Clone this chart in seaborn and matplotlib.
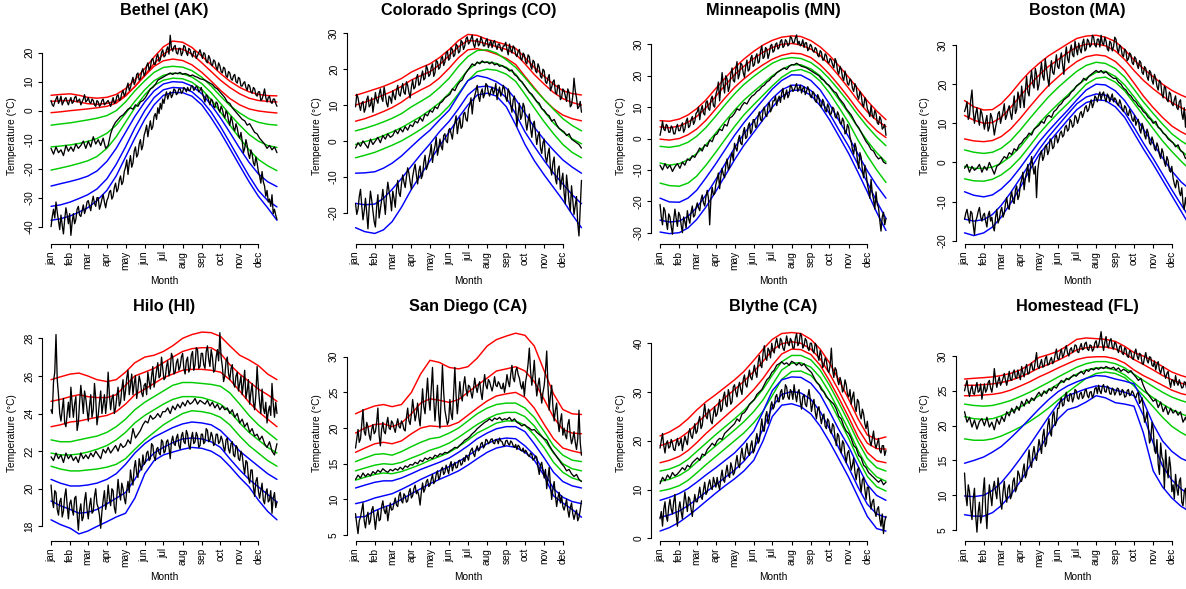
import matplotlib

matplotlib.use("Agg")
import matplotlib.pyplot as plt
import seaborn as sns

MONTHS = ["jan", "feb", "mar", "apr", "may", "jun", "jul", "aug", "sep", "oct", "nov", "dec"]
MONTH_DAYS = [1, 32, 60, 91, 121, 152, 182, 213, 244, 274, 305, 335]
# smooth curves read at the 1st and mid of every month
SMOOTH_DAYS = [1, 16, 32, 46, 60, 75, 91, 106, 121, 136, 152, 167, 182, 197, 213, 228,
               244, 259, 274, 289, 305, 320, 335, 350, 365]
# max / min series read every 2nd day, mean series every 4th day
DAYS_2 = list(range(1, 366, 2))
DAYS_4 = list(range(1, 366, 4))

# ---------------- Bethel (AK)
bethel_tmax = [3.5, 2.0, 1.5, 3.0, 4.0, 5.0, 2.5, 3.5, 5.0, 2.0, 3.0, 4.0, 4.5, 3.0, 2.0, 3.5,
               4.5, 2.5, 3.0, 4.5, 5.0, 3.0, 3.5, 4.0, 2.0, 3.0, 4.0, 5.5, 3.0, 3.5,
               4.5, 3.0, 2.5, 4.0, 3.5, 2.0, 1.5, 3.5, 3.0, 1.5, 2.0, 3.5, 4.0, 2.0, 2.5, 3.0,
               3.5, 2.5, 1.5, 3.0, 4.5, 2.5, 3.0, 5.0, 5.5, 3.5, 4.0, 6.0, 7.0, 5.0,
               6.0, 8.0, 9.5, 7.0, 8.0, 10.0, 11.5, 9.0, 10.0, 12.5, 13.0, 10.5, 11.0, 13.5, 14.5, 12.0,
               13.0, 15.5, 16.5, 14.0, 15.0, 17.5, 18.0, 16.0, 16.0, 18.5, 19.5, 17.0, 17.5, 20.0, 21.0, 18.5,
               19.0, 21.0, 22.0, 19.5, 26.0, 21.5, 20.5, 22.0, 22.5, 20.0, 19.5, 21.5, 21.5, 19.0, 20.0, 22.5,
               22.0, 20.0, 19.0, 21.5, 21.0, 19.5, 18.5, 20.5, 20.5, 18.0, 19.0, 20.0, 21.0, 19.5,
               18.0, 20.0, 19.5, 17.0, 16.5, 19.0, 18.0, 16.0, 15.5, 17.5, 17.0, 15.0, 14.0, 16.5, 15.5, 13.5,
               13.0, 15.0, 14.5, 12.0, 11.5, 13.5, 13.0, 11.0, 10.5, 12.0, 12.5, 10.0, 9.5, 11.5, 11.0, 8.5,
               8.5, 9.5, 10.0, 8.0, 7.0, 9.0, 8.5, 6.5, 6.0, 8.0, 7.5, 5.5, 5.0, 6.5,
               6.5, 3.5, 4.0, 5.5, 7.5, 4.5, 3.0, 4.5, 5.0, 3.0, 2.5, 4.0, 4.0, 2.5, 1.5]
bethel_tmean = [-13.0, -15.0, -12.5, -14.5, -13.5, -15.5, -12.0, -14.0, -12.5, -14.0, -11.5, -13.0, -12.0, -10.5, -13.0,
                -10.5, -12.5, -9.0, -11.5, -10.0, -12.0, -9.5, -13.0, -12.0, -8.0, -5.5, -4.0, -3.0, -2.0, -1.5,
                -0.5, 0.5, 1.0, 0.5, 2.0, 1.5, 3.0, 3.5, 4.5, 6.0, 7.5, 8.0, 9.0, 10.5, 11.0, 11.5,
                12.0, 12.5, 13.0, 12.5, 13.0, 12.8, 13.2, 12.5, 12.8, 12.5, 12.0, 12.3, 11.8, 11.5, 11.0,
                10.8, 10.5, 10.0, 9.5, 9.0, 8.0, 7.5, 6.5, 5.5, 4.5, 3.0, 2.5, 1.0, 0.0, -1.0, -2.0,
                -3.0, -3.5, -5.0, -4.5, -6.0, -7.5, -8.0, -9.5, -10.5, -11.5, -13.0, -12.0, -13.5, -12.5, -14.5]
bethel_tmin = [-40.0, -36.5, -34.0, -37.0, -31.5, -35.0, -38.0, -41.0, -36.0, -39.5, -42.5, -37.5, -33.5, -36.0, -39.0, -35.5,
               -43.0, -38.5, -35.5, -39.0, -37.5, -34.0, -33.0, -36.0, -36.5, -34.5, -32.5, -35.5, -34.0, -31.5,
               -31.0, -33.0, -34.5, -31.5, -29.5, -32.0, -33.0, -30.0, -30.0, -34.0, -32.5, -30.5, -29.0, -31.5, -33.5, -31.0,
               -30.0, -28.0, -27.5, -30.5, -29.5, -26.5, -25.0, -28.0, -27.0, -24.0, -22.5, -25.5, -24.5, -21.0,
               -19.5, -17.0, -22.0, -18.0, -15.5, -19.5, -18.0, -14.0, -12.5, -16.0, -15.0, -11.5, -10.0, -13.5, -12.0, -8.5,
               -7.0, -5.0, -9.0, -6.0, -3.5, -6.5, -5.5, -2.0, -1.0, -3.0, 1.0, -1.0, 2.5, 0.5, 4.0, 2.5,
               5.0, 6.5, 4.0, 5.5, 6.5, 4.5, 5.5, 7.5, 7.0, 5.5, 6.0, 7.5, 7.5, 6.0, 6.5, 8.0,
               7.5, 6.5, 8.0, 7.0, 7.0, 8.5, 8.5, 7.0, 7.5, 8.5, 8.0, 6.5, 7.0, 8.0,
               6.0, 4.5, 3.0, 5.5, 5.0, 3.5, 2.0, 4.0, 3.5, 1.5, 1.0, 3.0, 2.5, 0.5, -0.5, 1.5,
               0.5, -1.5, -2.5, 0.0, -1.0, -3.5, -5.0, -2.0, -3.5, -6.0, -7.0, -4.5, -6.0, -8.5, -9.5, -7.5,
               -10.5, -14.5, -13.0, -10.0, -12.0, -15.0, -16.5, -13.5, -15.0, -18.0, -19.0, -16.0, -18.0, -21.0,
               -22.5, -25.0, -21.0, -24.5, -26.0, -29.5, -27.5, -31.5, -30.5, -33.0, -29.0, -35.5, -34.0, -36.0, -37.5]
bethel_red = [
    [5.3, 5.6, 5.8, 5.3, 4.6, 4.3, 4.6, 5.6, 7.6, 10.6, 14.5, 18.5, 22.0, 24.0, 23.6, 21.8, 18.8, 15.8, 12.8, 10.2, 8.0, 6.5, 5.6, 5.2, 5.1],
    [3.2, 3.4, 3.5, 3.0, 2.4, 2.2, 2.5, 3.3, 5.3, 8.3, 12.3, 16.2, 19.5, 21.4, 21.2, 19.5, 16.5, 13.5, 10.5, 8.0, 5.8, 4.3, 3.5, 3.2, 3.0],
    [-0.7, -0.4, 0.0, 0.3, 0.6, 1.0, 1.5, 2.6, 5.0, 8.3, 12.0, 15.3, 17.2, 17.8, 17.3, 15.8, 13.2, 10.2, 7.0, 4.2, 2.0, 0.6, -0.1, -0.5, -0.8],
]
bethel_green = [
    [-5.0, -4.6, -4.2, -3.7, -3.2, -2.6, -1.7, 0.0, 3.0, 6.8, 10.3, 13.2, 14.9, 15.3, 15.0, 13.8, 11.5, 8.5, 5.0, 1.8, -0.8, -2.8, -4.0, -4.7, -5.0],
    [-12.5, -12.2, -11.8, -11.3, -10.6, -9.6, -7.8, -5.0, -1.0, 3.2, 7.2, 10.3, 12.2, 12.9, 12.7, 11.6, 9.3, 6.2, 2.5, -1.3, -5.0, -8.2, -10.5, -12.0, -12.7],
    [-20.5, -19.8, -19.0, -18.2, -17.3, -15.8, -13.0, -9.0, -4.0, 1.0, 5.5, 8.7, 10.5, 11.2, 11.0, 9.8, 7.3, 3.8, -0.5, -5.0, -9.5, -13.5, -16.8, -19.0, -20.7],
]
bethel_blue = [
    [-26.0, -25.2, -24.4, -23.6, -22.6, -20.8, -17.5, -13.0, -7.5, -2.0, 3.0, 6.8, 9.2, 10.0, 9.8, 8.5, 5.8, 2.0, -2.5, -7.5, -13.0, -17.8, -21.8, -24.5, -26.2],
    [-33.0, -32.5, -31.5, -30.3, -29.0, -27.0, -23.5, -18.5, -12.5, -6.0, 0.0, 4.5, 7.2, 8.0, 7.8, 6.5, 3.5, -0.5, -5.5, -11.0, -17.0, -22.5, -27.5, -31.0, -33.2],
    [-37.8, -37.3, -36.3, -35.0, -33.5, -31.0, -27.5, -22.5, -16.0, -9.5, -3.0, 2.0, 5.3, 6.3, 6.2, 5.0, 2.0, -2.5, -7.5, -13.0, -19.0, -24.5, -29.5, -33.5, -37.8],
]

# ---------------- Colorado Springs (CO)
colorado_tmax = [9.5, 13.0, 12.0, 10.0, 8.5, 10.5, 11.0, 8.0, 9.0, 11.5, 12.5, 9.5, 10.0, 12.0, 8.0, 10.5,
                 13.5, 11.5, 10.5, 13.0, 14.5, 12.0, 11.0, 15.0, 13.0, 10.5, 9.5, 12.5, 12.0, 10.5,
                 14.0, 12.5, 11.5, 14.0, 15.5, 13.0, 12.5, 14.5, 16.0, 13.5, 13.0, 16.5, 15.5, 13.5, 12.0, 15.0,
                 17.0, 14.5, 15.0, 17.5, 18.5, 15.5, 16.0, 18.0, 19.5, 17.0, 17.5, 21.0, 20.0, 18.0,
                 18.5, 20.5, 21.5, 18.0, 19.0, 22.5, 22.0, 20.0, 20.5, 23.0, 23.5, 21.0, 22.0, 24.5, 25.0, 22.5,
                 23.0, 26.0, 25.5, 23.5, 24.0, 27.0, 26.5, 24.5, 25.0, 28.0, 27.5, 25.5, 26.5, 28.5, 29.0, 27.0,
                 27.5, 28.5, 29.5, 27.0, 26.0, 28.0, 28.5, 26.5, 27.0, 29.0, 28.0, 26.5, 26.5, 28.0, 28.5, 26.0,
                 27.0, 28.0, 26.0, 27.5, 28.0, 26.5, 25.5, 27.0, 27.0, 25.5, 25.0, 26.5, 26.5, 27.5,
                 25.5, 24.0, 27.0, 25.5, 24.5, 26.5, 26.0, 24.0, 23.5, 25.0, 25.5, 23.0, 22.5, 24.5, 24.0, 22.0,
                 21.5, 24.0, 23.5, 21.0, 20.0, 22.5, 22.0, 19.5, 19.0, 21.5, 20.5, 18.0, 17.5, 20.0, 19.5, 16.5,
                 16.0, 17.5, 18.5, 14.0, 15.0, 16.5, 17.0, 13.5, 13.0, 15.5, 15.5, 11.5, 12.0, 14.5,
                 14.0, 12.5, 11.0, 14.5, 13.5, 9.5, 10.0, 12.5, 17.5, 14.0, 12.0, 9.0, 9.5, 11.0, 8.0]
colorado_tmean = [-2.0, -0.5, -1.5, 0.0, -1.0, -2.0, 0.5, -1.0, 0.0, 1.0, -0.5, 1.5, 0.5, 2.0, 1.0,
                  1.5, 3.0, 2.0, 3.5, 2.5, 4.0, 3.0, 4.5, 4.0, 5.5, 5.0, 6.5, 5.5, 7.5, 7.0,
                  8.5, 8.0, 9.5, 9.0, 10.5, 11.0, 12.0, 12.5, 13.0, 14.5, 14.0, 15.5, 16.5, 17.0, 18.5, 19.5,
                  20.5, 21.5, 21.0, 22.0, 21.5, 22.3, 21.8, 22.0, 21.5, 22.0, 21.2, 21.5, 20.8, 21.0, 20.5,
                  20.2, 19.5, 19.8, 18.5, 18.0, 17.0, 16.5, 15.5, 14.5, 13.5, 13.0, 12.0, 11.0, 10.5, 9.0, 8.5,
                  7.5, 7.0, 5.5, 6.0, 4.5, 3.5, 3.0, 2.5, 1.5, 2.0, 0.5, 0.0, -0.5, -1.0, -2.0]
colorado_tmin = [-17.5, -20.5, -19.0, -15.5, -13.5, -18.0, -22.0, -19.5, -16.0, -20.0, -24.5, -18.5, -14.0, -16.5, -19.5, -22.5,
                 -24.0, -18.5, -15.0, -21.5, -19.0, -16.5, -13.5, -17.0, -20.5, -15.0, -11.5, -14.0, -16.0, -19.5,
                 -14.0, -16.0, -18.5, -13.5, -11.0, -14.5, -15.5, -12.0, -9.5, -11.5, -13.0, -10.0, -7.5, -9.0, -11.5, -13.5,
                 -10.0, -8.0, -6.5, -9.5, -12.0, -8.5, -7.0, -10.5, -9.5, -6.0, -4.0, -8.0, -7.0, -5.0,
                 -3.5, -1.0, -6.0, -3.0, -1.5, 1.0, -4.0, -2.0, 0.5, -1.5, -2.5, 1.5, 2.0, 0.0, -0.5, 3.0,
                 3.5, 2.0, 0.5, 3.5, 5.0, 7.0, 2.0, 4.5, 6.5, 3.5, 4.0, 7.5, 8.0, 6.0, 5.5, 9.0,
                 10.0, 12.0, 7.5, 11.0, 12.5, 14.0, 15.5, 12.5, 11.0, 13.5, 14.5, 12.0, 13.0, 16.0, 15.5, 13.5,
                 12.5, 14.0, 15.0, 13.0, 14.0, 16.0, 11.5, 13.5, 15.0, 12.5, 13.5, 15.5, 14.5, 12.0,
                 11.0, 14.5, 13.5, 10.0, 8.0, 11.5, 12.5, 9.0, 4.0, 7.5, 10.5, 6.0, 7.0, 10.5, 9.5, 5.5,
                 3.0, 5.5, 7.5, 3.5, 1.0, 4.5, 5.5, 2.0, -1.0, 1.5, 2.5, -2.0, -3.5, -0.5, 0.5, -4.5,
                 -6.0, -3.5, -2.0, -7.5, -9.5, -6.0, -4.5, -10.5, -12.0, -8.0, -7.0, -13.5, -11.0, -9.0,
                 -14.5, -17.5, -9.5, -13.0, -17.0, -19.5, -12.5, -16.5, -20.5, -18.0, -15.5, -23.0, -26.5, -18.5, -11.0]
colorado_red = [
    [12.7, 13.5, 14.4, 15.2, 16.2, 17.4, 19.2, 20.4, 21.5, 23.2, 25.5, 28.0, 29.7, 29.4, 28.3, 27.6, 26.8, 25.8, 23.2, 20.5, 18.0, 15.8, 14.0, 13.2, 12.8],
    [10.0, 10.8, 11.8, 12.8, 13.8, 15.2, 17.0, 18.2, 19.3, 21.2, 23.8, 26.3, 28.0, 27.8, 27.0, 26.3, 25.5, 24.2, 21.5, 18.5, 15.8, 13.5, 11.8, 10.7, 10.0],
    [5.5, 6.2, 7.2, 8.2, 9.3, 10.8, 12.8, 14.2, 15.5, 17.5, 20.3, 23.2, 25.4, 25.7, 25.1, 24.2, 23.0, 21.3, 18.0, 14.8, 11.5, 9.0, 7.2, 6.2, 5.6],
]
colorado_green = [
    [2.8, 3.5, 4.4, 5.3, 6.3, 7.6, 9.5, 11.0, 12.6, 14.8, 17.5, 20.8, 23.5, 25.2, 25.4, 24.5, 22.6, 20.5, 17.6, 14.5, 11.5, 8.8, 6.2, 4.3, 2.8],
    [-1.0, -0.2, 0.5, 1.5, 2.5, 3.7, 5.3, 6.8, 8.6, 10.6, 13.3, 16.5, 19.8, 21.8, 22.0, 21.6, 20.5, 18.6, 15.2, 11.8, 8.2, 5.0, 2.5, 0.6, -0.8],
    [-4.7, -4.0, -3.2, -2.2, -1.2, 0.0, 1.6, 3.2, 5.0, 7.0, 9.8, 13.2, 16.8, 19.3, 20.0, 19.7, 18.6, 16.6, 13.0, 9.2, 5.3, 2.0, -1.0, -3.2, -4.7],
]
colorado_blue = [
    [-9.0, -8.9, -8.6, -7.6, -6.2, -4.2, -1.6, 0.8, 3.0, 5.8, 8.6, 12.8, 16.8, 18.2, 17.6, 16.5, 14.7, 11.6, 7.7, 3.8, 0.3, -2.6, -5.3, -7.3, -9.0],
    [-17.4, -17.8, -17.6, -16.0, -13.5, -10.5, -7.0, -3.8, -0.8, 2.5, 5.5, 9.0, 12.8, 15.0, 15.3, 14.5, 12.0, 7.5, 2.5, -1.5, -5.5, -9.0, -12.0, -15.0, -17.5],
    [-24.2, -25.3, -25.8, -24.8, -22.5, -18.5, -13.5, -9.5, -5.5, -1.5, 2.5, 6.5, 10.0, 12.8, 13.3, 12.5, 9.5, 4.5, -1.0, -5.5, -9.5, -13.0, -16.5, -20.5, -24.2],
]

# ---------------- Minneapolis (MN)
minneapolis_tmax = [1.0, 3.0, 5.5, 3.0, 2.5, 4.5, 4.0, 2.0, 2.0, 4.0, 3.5, 1.5, 1.5, 3.5, 4.5, 2.5,
                    2.5, 4.0, 5.0, 2.0, 3.0, 5.5, 6.5, 3.5, 4.0, 6.0, 7.0, 4.5, 5.5, 8.0,
                    8.5, 10.0, 6.0, 9.0, 10.5, 8.0, 7.5, 11.5, 12.0, 9.5, 9.0, 12.5, 13.5, 10.5, 10.0, 14.0,
                    15.5, 18.0, 12.0, 16.5, 21.0, 17.0, 14.5, 20.0, 19.0, 15.0, 16.5, 20.5, 22.5, 18.5,
                    18.0, 22.0, 24.5, 19.0, 20.5, 24.0, 23.5, 21.0, 19.5, 23.0, 25.0, 21.5, 22.0, 25.5, 26.5, 23.0,
                    23.5, 26.0, 27.0, 24.0, 24.5, 28.0, 29.5, 25.5, 26.0, 29.0, 28.5, 25.5, 27.0, 29.5, 30.0, 27.5,
                    28.0, 30.0, 30.5, 28.5, 29.0, 31.0, 31.5, 29.0, 29.5, 31.5, 31.0, 29.5, 30.0, 32.5, 32.0, 30.5,
                    30.5, 32.0, 33.0, 30.0, 31.0, 29.5, 30.0, 31.5, 29.0, 30.5, 30.5, 28.0, 28.5, 30.0,
                    29.5, 28.0, 27.5, 29.0, 28.5, 26.5, 26.0, 28.0, 27.5, 25.0, 25.0, 27.0, 26.5, 24.5, 24.0, 25.5,
                    25.0, 23.5, 22.5, 25.5, 24.5, 21.5, 20.5, 23.0, 22.0, 19.5, 18.5, 21.5, 20.0, 17.5, 17.0, 19.0,
                    18.5, 16.0, 15.0, 17.5, 16.5, 13.5, 12.5, 15.0, 14.0, 11.0, 10.0, 13.0, 12.0, 9.5,
                    8.5, 7.0, 10.5, 7.5, 6.5, 9.0, 8.0, 5.0, 4.5, 7.0, 6.0, 3.0, 3.5, 4.5, 1.0]
minneapolis_tmean = [-8.5, -10.0, -8.0, -9.5, -8.5, -10.5, -9.0, -8.0, -9.5, -7.5, -8.5, -6.5, -7.0, -5.5, -6.0,
                     -4.5, -3.0, -4.0, -2.0, -2.5, -0.5, -1.0, 1.0, 1.5, 3.0, 2.5, 4.5, 4.0, 6.5, 7.0,
                     8.0, 9.5, 9.0, 10.5, 11.5, 11.0, 12.5, 13.5, 14.0, 15.0, 15.5, 16.5, 17.0, 18.0, 18.5, 19.5,
                     20.0, 21.0, 21.5, 22.0, 22.5, 22.0, 23.0, 23.5, 23.5, 24.0, 23.5, 23.0, 22.8, 22.5, 22.0,
                     21.5, 21.0, 20.5, 20.0, 19.0, 18.5, 17.5, 17.0, 16.0, 15.0, 14.5, 13.0, 12.0, 11.0, 9.5, 8.5,
                     7.5, 6.0, 4.5, 3.5, 2.0, 0.5, -1.0, -2.0, -3.5, -4.0, -5.5, -6.5, -6.0, -7.5, -8.0]
minneapolis_tmin = [-21.0, -25.0, -27.5, -22.0, -23.0, -26.5, -29.0, -24.0, -25.0, -28.0, -30.5, -26.0, -22.5, -25.5, -28.0, -23.5,
                    -24.5, -27.5, -30.0, -25.0, -26.5, -28.5, -23.0, -25.5, -27.0, -23.5, -21.5, -25.0, -24.5, -22.0,
                    -20.5, -22.0, -23.0, -19.5, -18.0, -20.5, -21.5, -18.5, -16.5, -19.0, -27.5, -19.0, -15.5, -18.0, -17.5, -14.5,
                    -13.0, -11.0, -16.0, -12.0, -9.5, -11.5, -12.5, -8.5, -6.5, -10.0, -9.0, -6.0, -4.5, -7.0,
                    -1.5, -3.0, -4.0, -0.5, 1.0, -1.5, -2.0, 2.0, 3.5, 0.0, 0.5, 4.0, 5.0, 1.5, 2.5, 6.0,
                    6.0, 3.5, 4.0, 7.0, 8.5, 6.0, 5.5, 9.0, 10.0, 7.5, 7.0, 10.5, 11.5, 8.5, 9.5, 12.0,
                    12.0, 13.5, 10.5, 12.5, 13.5, 11.5, 14.5, 16.0, 12.5, 14.0, 15.5, 13.0, 14.0, 17.0, 16.5, 15.0,
                    15.5, 16.5, 17.5, 15.0, 16.0, 17.0, 14.5, 16.0, 16.5, 14.0, 15.0, 16.5, 15.5, 13.5,
                    13.0, 15.0, 14.5, 12.0, 11.5, 14.0, 13.0, 10.5, 10.0, 12.5, 11.5, 9.0, 8.5, 11.0, 10.0, 7.5,
                    8.0, 10.0, 9.5, 7.0, 6.5, 8.5, 7.5, 5.0, 4.5, 6.5, 5.5, 1.5, 2.0, 4.5, 3.5, 0.5,
                    -1.0, -3.5, -5.0, -1.5, -3.0, -7.0, -9.5, -4.5, -6.0, -10.0, -12.5, -8.5, -11.0, -14.5,
                    -16.5, -19.0, -13.0, -17.5, -19.5, -22.5, -17.0, -21.0, -22.0, -26.0, -29.5, -25.0, -23.5, -27.5, -25.5]
minneapolis_red = [
    [5.7, 5.5, 6.2, 7.5, 9.5, 12.3, 16.0, 19.3, 22.5, 25.3, 27.8, 29.8, 31.3, 32.3, 32.7, 32.5, 31.2, 29.2, 26.5, 23.2, 19.5, 15.8, 12.0, 8.8, 6.0],
    [3.7, 3.4, 4.0, 5.2, 7.0, 9.8, 13.5, 17.0, 20.3, 23.0, 25.5, 27.5, 29.0, 30.0, 30.3, 29.8, 28.5, 26.5, 23.5, 20.0, 16.0, 12.0, 8.5, 5.8, 3.8],
    [-0.2, -0.5, 0.0, 1.2, 3.0, 5.8, 9.5, 13.0, 16.3, 19.0, 21.5, 23.5, 25.3, 26.5, 27.2, 27.0, 25.8, 23.5, 20.5, 17.0, 13.0, 9.0, 5.5, 2.5, 0.3],
]
minneapolis_green = [
    [-2.5, -2.8, -2.3, -1.2, 0.7, 3.5, 7.2, 10.8, 14.2, 17.2, 19.8, 22.0, 24.0, 25.3, 25.8, 25.5, 24.2, 22.0, 19.0, 15.5, 11.5, 7.5, 3.8, 0.5, -2.3],
    [-7.8, -8.5, -8.0, -6.8, -4.8, -2.0, 1.8, 5.5, 9.0, 12.2, 15.0, 17.5, 20.0, 22.0, 23.5, 23.5, 22.2, 20.0, 16.5, 12.5, 8.0, 3.5, -0.8, -4.5, -7.5],
    [-14.2, -15.0, -15.2, -14.2, -12.0, -8.5, -4.3, -0.2, 3.8, 7.5, 10.8, 13.8, 16.8, 19.5, 21.5, 22.0, 20.8, 18.3, 14.5, 10.0, 5.0, -0.5, -5.5, -10.0, -14.0],
]
minneapolis_blue = [
    [-19.0, -20.2, -20.3, -19.0, -16.5, -12.5, -8.0, -3.5, 1.0, 5.0, 8.8, 12.3, 15.8, 18.5, 20.3, 20.2, 18.5, 15.5, 11.0, 5.8, 0.5, -5.0, -10.3, -15.0, -19.0],
    [-26.0, -26.6, -26.3, -24.8, -22.0, -18.0, -13.0, -8.0, -3.0, 1.5, 5.5, 9.3, 12.8, 15.5, 17.0, 17.0, 15.3, 12.3, 8.0, 2.8, -2.5, -8.3, -14.0, -20.0, -25.5],
    [-29.8, -30.3, -30.0, -28.5, -25.8, -21.8, -16.8, -11.8, -6.8, -2.2, 2.0, 6.0, 10.0, 13.3, 15.3, 15.5, 13.8, 10.5, 6.0, 0.8, -4.8, -10.8, -17.0, -23.5, -29.3],
]

# ---------------- Boston (MA)
boston_tmax = [13.0, 14.0, 15.5, 11.0, 12.0, 16.0, 18.5, 13.0, 10.0, 12.5, 14.0, 11.0, 9.5, 13.5, 12.5, 10.5,
               8.5, 10.5, 12.0, 8.0, 9.0, 12.5, 11.5, 9.5, 7.0, 9.0, 10.5, 12.5, 13.0, 10.0,
               11.5, 13.0, 15.0, 11.0, 12.0, 13.5, 14.5, 12.5, 11.0, 14.0, 17.0, 12.5, 13.5, 18.0, 16.5, 14.0,
               19.5, 16.5, 14.0, 18.5, 22.0, 18.0, 17.0, 21.0, 23.5, 20.0, 19.0, 24.0, 22.5, 18.5,
               20.0, 23.0, 25.5, 22.0, 21.0, 26.5, 24.0, 21.5, 19.5, 23.5, 26.0, 23.0, 22.5, 25.0, 27.5, 24.5,
               24.0, 26.5, 28.0, 25.0, 22.5, 27.0, 29.5, 26.5, 25.5, 28.5, 30.0, 27.5, 27.0, 31.0, 29.0, 27.5,
               30.5, 29.0, 28.0, 30.5, 31.5, 28.5, 29.0, 31.5, 31.0, 29.5, 30.0, 32.5, 32.0, 30.0, 29.5, 31.5,
               31.5, 29.5, 32.5, 30.5, 30.0, 32.0, 31.0, 29.0, 28.5, 31.0, 30.5, 28.5, 29.5, 32.0,
               31.5, 29.0, 28.0, 30.0, 29.5, 27.5, 27.0, 29.0, 28.5, 26.0, 26.5, 28.0, 27.5, 25.5, 25.0, 27.0,
               26.5, 25.0, 24.0, 26.0, 25.5, 23.0, 22.5, 24.5, 24.0, 22.0, 21.0, 23.5, 23.0, 21.0, 20.0, 22.5,
               21.5, 19.5, 18.5, 21.0, 20.5, 17.5, 16.5, 19.5, 19.0, 16.0, 15.5, 18.0, 17.5, 15.0,
               14.5, 16.0, 17.0, 14.0, 13.5, 15.5, 16.0, 12.5, 11.0, 14.0, 9.0, 13.5, 15.0, 12.0, 13.0]
boston_tmean = [-1.5, -0.5, -2.5, -1.0, -2.0, -1.5, -0.5, -2.5, -1.0, -2.0, 0.0, -1.5, -3.0, -1.0, -0.5,
                0.5, 1.5, 1.0, 2.5, 2.0, 3.5, 3.0, 4.5, 5.0, 6.0, 6.5, 7.5, 7.0, 8.5, 9.0,
                9.5, 10.5, 10.0, 11.5, 12.0, 11.5, 13.0, 13.5, 14.5, 15.0, 16.0, 16.5, 17.0, 18.0, 18.5, 19.5,
                20.0, 20.5, 21.5, 21.0, 22.0, 22.5, 23.0, 23.5, 23.0, 23.5, 22.8, 23.2, 22.5, 22.0, 21.5,
                21.5, 20.5, 20.0, 19.0, 18.5, 17.5, 17.0, 16.0, 15.5, 14.5, 14.0, 13.0, 12.5, 11.5, 11.0, 10.0,
                10.5, 9.0, 8.5, 7.5, 7.0, 6.0, 5.5, 5.0, 4.0, 4.5, 3.0, 2.5, 1.0, 1.5, 0.5]
boston_tmin = [-14.5, -13.0, -12.0, -14.0, -15.5, -12.5, -13.0, -16.0, -18.5, -15.0, -14.0, -12.5, -11.5, -14.0, -15.0, -13.5,
               -13.0, -15.0, -16.5, -13.5, -12.5, -15.0, -14.0, -16.5, -17.5, -14.0, -12.0, -15.5, -14.5, -12.5,
               -11.5, -14.0, -13.0, -10.5, -9.0, -11.5, -12.0, -9.0, -7.5, -10.0, -10.5, -7.0, -6.0, -9.5, -8.5, -5.5,
               -4.5, -2.5, -7.0, -4.0, -2.5, -0.5, -5.0, -1.5, 1.5, -1.0, -3.0, -1.0, -9.0, -2.0,
               0.5, 2.0, 3.0, 0.5, 1.5, 4.0, 4.5, 2.0, 3.0, 6.0, 5.5, 3.5, 4.0, 6.5, 7.0, 5.0,
               6.0, 7.5, 8.0, 6.5, 7.0, 9.0, 9.5, 8.0, 8.5, 11.0, 10.5, 9.0, 9.5, 12.0, 11.5, 10.0,
               11.0, 12.5, 13.0, 11.5, 12.5, 14.0, 14.5, 13.0, 13.5, 15.0, 16.0, 14.0, 15.0, 17.0, 16.5, 15.5,
               17.0, 18.0, 16.0, 17.5, 18.0, 16.5, 15.5, 17.5, 17.0, 15.5, 16.5, 17.5, 15.5, 16.5,
               16.0, 15.0, 14.5, 16.0, 15.0, 13.5, 13.0, 14.5, 14.0, 12.5, 12.0, 13.5, 12.5, 11.0, 10.5, 12.0,
               9.5, 10.5, 11.0, 8.5, 7.5, 10.0, 9.0, 7.0, 6.0, 8.5, 7.5, 5.0, 4.5, 6.5, 5.5, 3.5,
               3.0, 5.0, 4.0, 2.0, 1.0, 3.5, 2.5, 0.0, -1.0, 1.5, 0.5, -2.0, -2.5, -1.0,
               -4.0, -5.5, -6.5, -4.5, -5.0, -7.5, -8.5, -6.5, -10.5, -12.0, -9.0, -11.5, -13.5, -12.0, -15.5]
boston_red = [
    [15.8, 14.2, 13.4, 13.5, 15.0, 17.5, 20.6, 23.2, 25.3, 27.2, 28.8, 30.3, 31.7, 32.3, 32.5, 32.0, 30.9, 28.8, 26.2, 24.0, 21.9, 20.0, 18.4, 17.2, 16.2],
    [12.0, 10.8, 10.0, 10.2, 11.5, 14.0, 17.0, 19.8, 22.3, 24.5, 26.3, 28.0, 29.5, 30.2, 30.3, 29.8, 28.5, 26.3, 23.5, 21.0, 18.8, 17.0, 15.3, 14.0, 12.8],
    [6.0, 5.5, 5.3, 5.6, 6.6, 8.5, 11.3, 14.2, 17.0, 19.6, 21.9, 24.0, 25.8, 27.0, 27.5, 27.2, 25.8, 23.5, 20.3, 17.0, 14.0, 11.5, 9.3, 7.8, 6.6],
]
boston_green = [
    [3.2, 2.6, 2.3, 2.6, 3.6, 5.5, 8.3, 11.2, 14.0, 16.7, 19.2, 21.3, 23.3, 24.8, 25.6, 25.3, 24.0, 21.8, 18.7, 15.5, 12.5, 9.8, 7.3, 5.5, 4.0],
    [-1.0, -1.5, -1.5, -1.2, -0.2, 1.5, 4.0, 7.0, 10.0, 12.5, 15.0, 17.2, 19.5, 21.5, 23.0, 23.3, 22.0, 19.8, 16.8, 13.6, 10.5, 7.8, 5.3, 3.0, 1.0],
    [-4.2, -4.7, -4.8, -4.3, -3.2, -1.4, 1.2, 4.2, 7.3, 10.0, 12.7, 15.0, 17.5, 20.0, 21.5, 21.8, 20.5, 18.3, 15.2, 12.0, 8.6, 5.5, 2.8, 0.3, -2.0],
]
boston_blue = [
    [-7.5, -8.4, -8.8, -8.3, -6.8, -4.5, -1.3, 2.0, 5.2, 8.0, 10.8, 13.3, 16.0, 18.5, 20.0, 19.8, 18.3, 15.8, 12.3, 8.5, 4.8, 1.2, -2.2, -5.0, -7.0],
    [-14.5, -15.0, -14.6, -13.3, -11.0, -7.8, -4.0, -0.3, 3.3, 6.5, 9.5, 12.3, 15.0, 16.7, 17.5, 17.2, 15.5, 12.8, 9.0, 5.0, 1.0, -3.0, -7.0, -10.8, -14.5],
    [-18.0, -18.7, -18.0, -16.5, -14.0, -10.5, -6.3, -2.0, 2.0, 5.0, 8.0, 10.8, 13.5, 15.3, 16.0, 15.8, 14.2, 11.5, 7.5, 3.5, -0.5, -4.5, -8.5, -12.5, -16.5],
]

# ---------------- Hilo (HI)
hilo_tmax = [24.2, 24.0, 25.7, 26.2, 28.2, 25.8, 25.0, 24.0, 23.6, 24.2, 24.8, 23.5, 23.3, 24.0, 24.6, 23.8,
             25.4, 24.5, 23.8, 24.5, 24.9, 23.1, 23.5, 24.6, 25.5, 24.8, 24.0, 25.2, 24.8, 24.2,
             23.6, 24.4, 25.0, 23.8, 24.2, 25.6, 24.8, 23.4, 23.9, 24.6, 25.2, 24.0, 24.5, 25.0, 24.0, 24.7,
             26.2, 25.0, 24.2, 24.8, 25.0, 24.0, 24.3, 24.9, 25.4, 24.4, 24.6, 25.3, 25.8, 24.7,
             25.2, 25.9, 26.3, 25.0, 25.5, 26.1, 25.0, 25.6, 26.0, 24.8, 25.3, 26.0, 25.7, 25.1, 24.9, 25.5,
             25.6, 25.0, 26.2, 25.7, 25.3, 26.0, 26.5, 25.4, 25.8, 26.3, 26.7, 25.9, 26.0, 27.0, 26.4, 25.8,
             25.9, 26.5, 26.8, 26.0, 26.3, 27.2, 27.0, 26.1, 26.2, 26.7, 26.9, 26.3, 26.5, 27.0, 27.2, 26.4,
             26.1, 26.8, 27.0, 26.2, 26.4, 27.1, 27.3, 26.3, 26.6, 27.5, 27.4, 26.4, 26.5, 27.2,
             27.2, 26.6, 26.4, 27.3, 27.6, 26.9, 26.5, 27.4, 27.0, 26.2, 26.3, 27.0, 27.4, 26.8, 28.3, 27.0,
             26.5, 25.7, 26.0, 26.8, 27.0, 26.1, 25.8, 26.4, 26.6, 25.6, 25.4, 26.0, 26.2, 25.2, 25.6, 26.0,
             25.0, 25.6, 26.3, 24.8, 25.2, 25.8, 24.5, 25.1, 25.6, 24.6, 24.2, 25.0, 26.5, 25.4,
             24.6, 24.0, 25.3, 24.3, 24.0, 24.6, 23.5, 24.1, 24.4, 23.9, 25.6, 24.5, 23.8, 24.6, 24.0]
hilo_tmean = [21.7, 21.5, 21.9, 21.6, 21.8, 21.4, 21.9, 21.6, 21.8, 21.5, 21.7, 21.4, 21.9, 21.6, 21.8,
              21.6, 21.9, 21.7, 22.0, 21.8, 21.6, 22.1, 21.9, 22.2, 21.9, 22.1, 22.3, 22.0, 22.4, 22.2,
              22.3, 22.6, 22.4, 23.2, 22.7, 22.9, 23.1, 23.4, 23.6, 23.5, 23.9, 23.7, 23.8, 24.0, 23.8, 24.1,
              24.1, 24.3, 24.0, 24.4, 24.2, 24.5, 24.3, 24.6, 24.4, 24.7, 24.5, 24.6, 24.8, 24.5, 24.7,
              24.6, 24.5, 24.7, 24.4, 24.6, 24.3, 24.5, 24.2, 24.4, 24.2, 24.3, 24.0, 24.2, 23.8, 24.0, 23.5,
              23.7, 23.3, 23.5, 23.0, 23.2, 22.8, 22.9, 22.6, 22.8, 22.4, 22.2, 22.5, 22.0, 21.8, 22.4]
hilo_tmin = [20.2, 19.4, 19.0, 19.9, 19.8, 18.9, 18.6, 19.3, 19.5, 18.5, 18.8, 19.6, 20.0, 19.1, 18.4, 19.2,
             19.4, 18.9, 18.6, 19.5, 19.6, 18.7, 17.8, 18.8, 19.2, 18.3, 18.5, 19.4, 19.8, 18.9,
             18.4, 19.1, 19.5, 18.7, 18.8, 19.6, 20.0, 19.2, 19.0, 18.6, 17.9, 18.8, 19.4, 19.9, 18.9, 19.3,
             20.2, 19.5, 19.1, 20.0, 19.9, 19.0, 18.7, 19.6, 20.5, 19.8, 19.4, 20.3, 20.0, 19.5,
             19.2, 19.9, 20.4, 19.8, 21.0, 20.5, 20.2, 21.1, 21.5, 20.8, 20.6, 21.6, 21.2, 21.0, 21.8, 21.3,
             21.4, 21.9, 22.0, 21.5, 21.6, 22.4, 22.3, 21.7, 21.5, 22.1, 22.2, 21.9, 21.8, 22.6, 22.5, 21.9,
             22.0, 22.5, 22.6, 22.2, 21.6, 22.5, 22.8, 22.4, 22.3, 22.7, 22.9, 22.3, 22.1, 22.8, 23.0, 22.5,
             22.4, 23.1, 22.9, 22.3, 22.1, 22.7, 23.0, 22.4, 22.5, 23.0, 22.8, 22.2, 22.3, 22.9,
             22.9, 22.4, 22.5, 23.2, 23.1, 22.5, 22.6, 23.0, 22.8, 22.3, 22.4, 22.9, 22.9, 22.4, 22.5, 22.8,
             22.6, 22.2, 22.0, 22.6, 22.7, 22.1, 21.9, 22.4, 22.5, 21.8, 21.7, 22.3, 22.2, 21.6, 21.5, 22.0,
             21.8, 21.2, 20.8, 21.5, 21.4, 20.6, 20.3, 21.0, 21.0, 20.1, 19.6, 20.4, 20.6, 19.9,
             19.5, 19.9, 20.3, 19.4, 19.2, 19.8, 20.0, 19.3, 19.4, 19.9, 18.7, 19.5, 19.8, 19.0, 19.3]
hilo_red = [
    [25.8, 25.95, 26.1, 26.15, 26.0, 25.8, 25.7, 25.8, 26.2, 26.7, 27.0, 27.1, 27.3, 27.6, 28.0, 28.2, 28.33, 28.3, 28.1, 27.6, 27.1, 26.85, 26.55, 26.1, 25.8],
    [24.65, 24.75, 24.9, 25.0, 24.9, 24.85, 24.85, 25.0, 25.5, 26.0, 26.2, 26.4, 26.7, 27.0, 27.3, 27.45, 27.5, 27.5, 27.2, 26.6, 26.1, 25.7, 25.3, 25.0, 24.65],
    [23.3, 23.4, 23.55, 23.6, 23.7, 23.8, 23.9, 24.1, 24.5, 25.0, 25.3, 25.6, 25.9, 26.1, 26.3, 26.35, 26.35, 26.3, 26.2, 25.8, 25.2, 24.6, 24.1, 23.7, 23.3],
]
hilo_green = [
    [22.6, 22.5, 22.5, 22.6, 22.7, 22.8, 23.0, 23.3, 23.7, 24.2, 24.6, 24.9, 25.2, 25.5, 25.65, 25.65, 25.6, 25.55, 25.45, 25.1, 24.5, 23.9, 23.4, 23.0, 22.6],
    [21.9, 21.8, 21.8, 21.85, 21.95, 22.1, 22.3, 22.6, 23.0, 23.5, 23.9, 24.2, 24.5, 24.75, 24.9, 24.9, 24.85, 24.7, 24.5, 24.1, 23.5, 23.0, 22.6, 22.2, 21.9],
    [21.2, 21.05, 20.95, 20.95, 21.0, 21.05, 21.15, 21.3, 21.6, 22.1, 22.6, 23.0, 23.4, 23.7, 24.0, 24.15, 24.1, 24.0, 23.8, 23.4, 22.8, 22.3, 21.9, 21.5, 21.2],
]
hilo_blue = [
    [20.5, 20.3, 20.15, 20.15, 20.2, 20.3, 20.5, 20.8, 21.3, 21.9, 22.4, 22.75, 23.0, 23.25, 23.45, 23.55, 23.5, 23.4, 23.1, 22.6, 22.0, 21.6, 21.2, 20.8, 20.5],
    [19.35, 19.1, 18.9, 18.7, 18.75, 18.9, 19.2, 19.5, 19.8, 20.5, 21.4, 21.9, 22.2, 22.45, 22.65, 22.7, 22.65, 22.5, 22.2, 21.6, 21.0, 20.5, 20.1, 19.7, 19.3],
    [18.35, 18.1, 17.9, 17.6, 17.75, 18.0, 18.25, 18.5, 18.7, 19.5, 20.8, 21.5, 21.8, 21.95, 22.1, 22.2, 22.15, 22.0, 21.7, 21.2, 20.6, 20.1, 19.4, 18.8, 18.35],
]

# ---------------- San Diego (CA)
sandiego_tmax = [17.2, 18.5, 19.8, 18.0, 18.5, 20.5, 22.6, 19.5, 19.0, 20.8, 20.2, 19.0, 18.3, 19.8, 20.5, 19.2,
                 19.5, 20.8, 22.8, 19.0, 17.5, 19.8, 20.8, 19.5, 19.2, 20.6, 21.5, 20.0, 19.8, 21.0,
                 20.7, 20.0, 19.4, 20.5, 21.3, 20.2, 20.0, 21.0, 20.6, 19.8, 19.6, 21.5, 22.8, 21.0, 20.5, 22.0,
                 24.0, 22.5, 21.0, 22.0, 23.5, 21.5, 20.3, 23.0, 25.5, 23.0, 22.0, 24.5, 27.0, 24.0,
                 22.5, 25.5, 28.5, 24.0, 21.0, 23.5, 26.0, 22.0, 20.0, 24.5, 28.8, 25.0, 22.5, 21.5, 20.5, 21.0,
                 24.0, 22.0, 21.2, 25.0, 28.5, 24.5, 22.0, 24.0, 26.5, 24.5, 23.8, 26.0, 27.2, 25.5, 24.5, 26.0,
                 25.8, 25.0, 24.2, 25.5, 27.0, 25.8, 25.0, 26.0, 26.5, 25.0, 24.0, 26.0, 27.5, 26.0, 25.5, 26.8,
                 26.5, 25.8, 25.2, 26.0, 27.2, 26.0, 25.8, 26.5, 26.2, 25.6, 25.5, 26.3, 25.0, 26.0,
                 27.5, 26.5, 25.8, 27.5, 28.8, 27.0, 26.5, 28.0, 28.5, 27.5, 27.0, 26.0, 25.5, 26.5, 24.5, 26.5,
                 27.5, 29.0, 31.2, 28.0, 26.0, 27.5, 29.5, 26.5, 24.5, 26.0, 27.0, 25.0, 23.5, 25.0, 26.0, 28.0,
                 30.8, 26.0, 22.5, 24.5, 26.0, 23.0, 21.0, 22.5, 23.5, 21.0, 19.5, 21.0, 22.0, 19.0,
                 20.0, 19.0, 18.5, 20.5, 21.2, 19.0, 17.8, 18.5, 19.5, 18.0, 17.0, 18.5, 22.5, 18.0, 16.2]
sandiego_tmean = [12.8, 13.4, 13.0, 13.7, 13.2, 13.6, 13.3, 13.9, 13.6, 14.1, 13.8, 14.3, 14.0, 13.8, 14.2,
                  14.0, 14.3, 14.1, 14.5, 14.2, 14.7, 14.5, 14.9, 14.8, 15.2, 15.0, 15.5, 15.3, 15.8, 15.6,
                  15.9, 15.7, 16.2, 16.0, 16.4, 16.3, 16.6, 16.5, 16.8, 17.0, 17.3, 17.2, 17.6, 17.9, 18.3, 18.5,
                  18.8, 19.2, 19.5, 19.9, 20.2, 20.5, 20.8, 21.0, 21.3, 21.0, 21.4, 21.2, 21.5, 21.1, 21.3,
                  21.2, 21.5, 21.0, 21.3, 20.8, 20.6, 20.3, 20.5, 20.2, 20.0, 19.7, 19.8, 19.4, 19.1, 18.8, 18.5,
                  18.3, 17.6, 17.0, 16.5, 16.0, 15.5, 15.0, 14.6, 14.0, 14.2, 13.6, 13.2, 13.5, 12.8, 12.5]
sandiego_tmin = [8.0, 6.5, 5.2, 7.0, 7.5, 8.5, 9.5, 7.0, 6.0, 7.5, 8.2, 6.5, 7.0, 8.5, 9.0, 7.5,
                 5.8, 7.5, 8.5, 7.0, 7.2, 9.0, 9.8, 8.5, 8.0, 9.0, 7.0, 8.2, 9.5, 8.5,
                 8.6, 9.5, 10.2, 9.2, 9.0, 10.5, 11.0, 9.8, 9.5, 10.8, 10.5, 9.6, 9.8, 11.0, 11.5, 10.2,
                 10.5, 11.5, 12.0, 10.8, 11.2, 10.5, 9.2, 11.0, 12.3, 11.0, 11.5, 12.5, 12.8, 11.8,
                 12.0, 12.8, 13.5, 12.2, 12.5, 13.5, 14.0, 12.8, 13.2, 14.2, 14.5, 13.5, 13.8, 14.8, 14.2, 13.6,
                 14.8, 15.3, 14.0, 14.7, 15.2, 14.4, 14.5, 15.4, 15.5, 14.8, 15.0, 15.8, 15.3, 16.2, 16.0, 15.5,
                 16.5, 16.9, 17.2, 16.4, 16.0, 17.0, 17.5, 16.8, 17.0, 17.8, 18.0, 17.2, 17.5, 18.4, 18.3, 17.8,
                 18.0, 18.4, 18.5, 17.9, 17.8, 18.4, 18.3, 17.8, 18.6, 18.2, 18.1, 17.6, 17.5, 18.2,
                 18.3, 17.8, 17.6, 18.2, 18.0, 17.5, 17.3, 17.7, 17.0, 17.6, 17.4, 16.9, 16.8, 17.2, 16.5, 16.9,
                 16.6, 16.2, 16.0, 16.5, 16.3, 15.5, 15.7, 16.1, 15.9, 14.5, 13.5, 14.8, 15.2, 14.0, 13.0, 14.2,
                 11.5, 13.0, 14.5, 12.0, 10.0, 11.5, 12.5, 10.5, 9.0, 10.2, 11.0, 9.5, 10.5, 9.0,
                 8.5, 9.2, 10.0, 8.5, 7.5, 8.8, 9.5, 8.0, 7.2, 8.0, 8.5, 7.0, 7.5, 8.5, 9.8]
sandiego_red = [
    [22.0, 22.6, 23.1, 23.3, 23.0, 23.3, 25.0, 27.6, 29.5, 29.2, 28.5, 28.3, 28.6, 29.8, 31.5, 32.4, 32.9, 33.3, 33.0, 31.5, 28.0, 24.8, 22.6, 22.0, 21.9],
    [19.3, 20.0, 20.5, 20.6, 20.2, 20.7, 22.0, 23.5, 24.1, 23.9, 23.6, 24.0, 25.0, 26.0, 27.0, 28.0, 28.3, 28.6, 28.0, 26.5, 24.0, 21.5, 19.8, 19.3, 19.2],
    [16.6, 17.2, 17.8, 18.0, 17.8, 18.2, 19.2, 20.0, 20.3, 20.2, 20.3, 20.8, 21.8, 22.8, 23.8, 24.5, 24.8, 25.0, 24.3, 22.8, 20.5, 18.5, 17.2, 16.8, 16.5],
]
sandiego_green = [
    [15.3, 15.8, 16.3, 16.4, 16.2, 16.7, 17.4, 18.0, 18.5, 18.7, 19.3, 20.0, 21.0, 22.0, 22.8, 23.3, 23.5, 23.5, 22.8, 21.5, 19.5, 17.5, 16.2, 15.5, 15.3],
    [14.0, 14.4, 14.8, 15.0, 14.9, 15.2, 15.8, 16.3, 16.9, 17.3, 17.9, 18.7, 19.6, 20.5, 21.3, 21.9, 22.2, 22.2, 21.6, 20.3, 18.4, 16.5, 15.0, 14.3, 14.0],
    [12.7, 13.1, 13.5, 13.7, 13.6, 13.9, 14.4, 14.9, 15.5, 16.0, 16.6, 17.4, 18.3, 19.3, 20.0, 20.7, 21.0, 21.0, 20.4, 19.0, 17.2, 15.2, 13.8, 13.0, 12.6],
]
sandiego_blue = [
    [11.6, 12.0, 12.4, 12.6, 12.6, 13.0, 13.6, 14.2, 14.7, 15.2, 15.8, 16.6, 17.5, 18.5, 19.3, 19.9, 20.2, 20.2, 19.5, 17.8, 15.8, 13.8, 12.5, 11.9, 11.6],
    [9.4, 9.7, 10.2, 10.5, 10.8, 11.4, 12.1, 12.8, 13.4, 14.0, 14.6, 15.3, 16.1, 17.0, 17.8, 18.4, 18.6, 18.5, 17.5, 16.2, 13.8, 11.5, 10.3, 9.7, 9.4],
    [7.5, 7.6, 8.4, 8.9, 9.3, 10.0, 10.8, 11.5, 12.2, 12.8, 13.4, 14.0, 14.8, 15.7, 16.6, 17.2, 17.5, 17.3, 16.6, 15.5, 13.3, 10.5, 9.5, 8.6, 7.5],
]

# ---------------- Blythe (CA)
blythe_tmax = [18.5, 20.0, 21.5, 19.0, 17.5, 19.5, 20.0, 18.5, 18.8, 20.3, 19.5, 18.2, 18.0, 19.5, 20.5, 19.0,
               19.5, 20.5, 18.0, 19.5, 21.0, 20.0, 19.2, 21.5, 22.5, 21.0, 20.5, 22.0, 23.5, 21.5,
               22.0, 24.0, 25.0, 22.5, 23.2, 25.5, 27.5, 25.0, 24.5, 26.5, 26.0, 24.0, 23.5, 25.5, 27.0, 25.0,
               25.5, 27.0, 28.5, 26.0, 26.5, 29.0, 30.0, 27.5, 27.0, 30.5, 29.5, 27.5, 28.0, 31.0,
               31.5, 30.0, 29.0, 31.0, 32.0, 30.5, 29.5, 32.5, 33.5, 31.5, 31.0, 33.0, 34.5, 33.0, 32.5, 34.0,
               35.5, 34.0, 33.0, 36.0, 37.5, 35.5, 35.0, 38.0, 39.5, 37.0, 36.5, 39.0, 38.5, 37.0, 40.0, 38.5,
               38.0, 40.0, 41.0, 39.5, 39.0, 41.0, 40.5, 39.0, 38.5, 40.0, 41.5, 40.0, 39.5, 41.0, 40.5, 39.0,
               39.0, 41.0, 42.0, 39.5, 40.0, 42.0, 41.5, 39.0, 39.5, 41.0, 40.5, 39.0, 38.5, 40.0,
               40.0, 38.5, 38.0, 40.0, 39.5, 37.5, 36.5, 38.5, 37.5, 35.0, 35.5, 37.0, 36.5, 34.5, 34.0, 35.5,
               39.0, 34.5, 33.0, 35.0, 34.5, 32.5, 31.5, 33.0, 32.0, 30.0, 30.5, 32.5, 31.5, 29.5, 29.0, 30.5,
               27.5, 29.0, 30.0, 27.0, 26.0, 28.5, 28.0, 25.5, 24.5, 26.5, 25.5, 23.5, 22.5, 24.0,
               21.5, 20.0, 19.0, 20.5, 22.0, 19.5, 18.5, 19.5, 20.5, 18.0, 17.5, 19.0, 19.0, 17.0, 18.0]
blythe_tmean = [11.2, 12.5, 11.8, 13.0, 12.3, 13.5, 12.8, 13.2, 13.8, 14.5, 14.0, 15.0, 14.6, 15.5, 16.0,
                16.5, 16.0, 17.3, 17.0, 18.2, 18.8, 19.5, 19.0, 20.0, 20.5, 20.3, 21.5, 22.0, 22.5, 23.0,
                23.5, 24.5, 24.0, 25.5, 25.8, 26.5, 27.5, 28.0, 28.5, 29.5, 30.0, 30.5, 31.5, 32.5, 33.0, 34.0,
                34.5, 35.5, 35.8, 36.2, 35.7, 36.0, 35.5, 36.3, 36.0, 35.5, 36.0, 35.4, 35.8, 35.0, 34.5,
                34.0, 33.0, 32.0, 31.5, 30.5, 30.0, 29.0, 28.5, 28.0, 27.5, 26.5, 25.0, 24.5, 23.0, 22.0, 21.5,
                20.5, 19.0, 18.5, 17.0, 16.5, 15.0, 14.5, 13.5, 13.0, 12.5, 12.0, 11.5, 12.0, 11.0, 11.5]
blythe_tmin = [4.0, 5.5, 2.5, 6.0, 7.5, 4.5, 3.5, 6.5, 8.0, 6.0, 5.0, 7.5, 9.0, 5.0, 2.5, 6.0,
               7.5, 5.5, 4.0, 7.0, 9.5, 7.5, 5.5, 8.5, 8.0, 6.0, 4.5, 7.0, 9.0, 7.5,
               7.5, 9.0, 10.5, 8.5, 8.0, 10.0, 11.5, 9.0, 9.5, 11.0, 12.0, 10.5, 10.0, 12.5, 11.5, 10.5,
               12.5, 11.0, 10.0, 12.5, 14.0, 12.0, 11.5, 13.5, 15.0, 13.0, 12.5, 15.5, 14.5, 13.0,
               13.5, 15.5, 17.0, 15.0, 14.5, 17.0, 18.5, 16.5, 16.0, 18.0, 19.5, 17.5, 17.0, 19.0, 20.0, 17.5,
               18.0, 20.0, 21.5, 19.5, 20.0, 22.5, 24.5, 22.0, 22.0, 25.0, 26.0, 23.5, 24.5, 27.0, 28.0, 26.5,
               27.0, 29.0, 29.5, 28.0, 28.0, 30.0, 30.5, 28.5, 29.0, 31.5, 31.0, 29.0, 28.5, 30.5, 30.0, 28.5,
               31.5, 29.5, 28.0, 30.0, 30.5, 28.0, 26.5, 29.0, 29.5, 27.5, 27.0, 29.0, 30.5, 28.5,
               26.0, 27.5, 28.5, 26.0, 24.5, 26.5, 27.0, 25.0, 23.5, 25.0, 25.5, 23.0, 22.5, 24.5, 24.0, 22.0,
               21.5, 23.5, 23.0, 20.5, 19.0, 21.5, 21.0, 18.5, 17.5, 20.0, 19.5, 17.0, 15.5, 17.5, 18.0, 16.0,
               14.0, 15.0, 16.5, 13.5, 12.0, 14.0, 14.5, 11.5, 9.5, 12.0, 12.5, 10.0, 8.0, 10.5,
               10.5, 8.0, 6.0, 7.5, 8.0, 5.5, 4.5, 6.0, 6.5, 4.0, 2.5, 5.0, 1.0, 3.5, 4.5]
blythe_red = [
    [21.0, 21.8, 23.0, 24.5, 26.3, 28.0, 29.5, 31.0, 32.5, 34.2, 36.5, 38.8, 40.8, 42.0, 42.2, 42.0, 40.8, 38.8, 36.0, 32.5, 28.5, 24.5, 21.2, 20.3, 20.8],
    [19.0, 19.6, 20.5, 21.8, 23.5, 25.4, 27.2, 28.9, 30.5, 32.2, 34.2, 36.3, 38.6, 39.9, 40.3, 40.0, 38.8, 36.8, 33.8, 30.3, 26.3, 22.5, 19.5, 18.4, 18.3],
    [15.5, 16.0, 16.8, 18.0, 19.6, 21.5, 23.3, 25.0, 26.7, 28.4, 30.5, 32.8, 35.5, 37.8, 38.8, 38.7, 37.7, 35.5, 32.3, 28.8, 24.8, 20.8, 17.6, 15.9, 15.5],
]
blythe_green = [
    [13.8, 14.2, 15.0, 16.2, 17.8, 19.5, 21.3, 22.9, 24.5, 26.2, 28.3, 30.6, 33.5, 36.2, 37.5, 37.5, 36.6, 34.5, 31.4, 27.8, 23.8, 19.8, 16.4, 14.5, 13.8],
    [11.7, 12.1, 12.9, 14.0, 15.6, 17.3, 19.0, 20.6, 22.2, 23.9, 26.0, 28.4, 31.5, 34.5, 35.9, 36.0, 35.1, 33.0, 29.9, 26.2, 22.2, 18.0, 14.6, 12.6, 11.7],
    [9.7, 10.1, 10.8, 11.9, 13.4, 15.1, 16.8, 18.4, 20.0, 21.6, 23.7, 26.1, 29.3, 32.6, 34.2, 34.3, 33.4, 31.3, 28.2, 24.5, 20.5, 16.3, 12.7, 10.6, 9.7],
]
blythe_blue = [
    [7.8, 8.4, 9.2, 10.2, 11.5, 13.0, 14.5, 16.0, 17.5, 19.5, 22.0, 26.0, 30.3, 32.5, 33.1, 33.0, 31.8, 29.5, 26.0, 22.3, 18.8, 14.8, 11.0, 8.8, 7.8],
    [4.3, 4.8, 5.6, 6.7, 8.0, 9.5, 11.0, 12.5, 14.0, 15.8, 18.2, 22.5, 27.0, 29.5, 30.1, 29.8, 28.5, 26.0, 22.5, 18.5, 14.5, 10.5, 7.0, 5.0, 4.3],
    [1.5, 2.2, 3.3, 4.6, 6.0, 7.6, 9.3, 10.8, 12.2, 13.8, 16.0, 20.0, 25.0, 27.3, 27.6, 27.0, 25.5, 23.0, 19.8, 16.3, 12.5, 8.5, 4.5, 2.0, 1.5],
]

# ---------------- Homestead (FL)
homestead_tmax = [25.0, 25.8, 26.5, 25.0, 24.2, 25.2, 25.8, 24.6, 24.5, 25.5, 26.2, 24.8, 25.0, 26.0, 23.8, 25.0,
                  26.0, 24.8, 25.2, 26.2, 26.5, 25.4, 24.8, 26.0, 28.2, 26.5, 25.5, 26.4, 27.0, 25.8,
                  26.2, 26.8, 27.5, 26.5, 25.8, 26.8, 27.8, 26.6, 26.5, 27.6, 28.0, 26.9, 26.8, 28.0, 27.2, 26.6,
                  28.5, 27.6, 27.0, 28.2, 28.8, 27.4, 27.5, 28.6, 29.0, 28.0, 28.0, 29.2, 30.5, 28.5,
                  28.2, 28.9, 29.5, 28.4, 28.5, 29.6, 30.0, 28.7, 28.8, 29.4, 29.8, 28.9, 29.2, 30.2, 31.0, 29.6,
                  29.5, 30.4, 31.0, 29.8, 30.2, 31.0, 31.5, 30.4, 30.0, 30.9, 31.2, 30.5, 30.8, 31.6, 31.5, 30.6,
                  30.5, 31.3, 31.8, 30.9, 31.0, 31.8, 32.0, 31.0, 30.8, 31.6, 31.5, 30.7, 31.0, 31.9, 32.2, 31.2,
                  31.5, 32.4, 33.5, 31.8, 30.8, 32.0, 32.8, 31.4, 31.2, 32.2, 32.5, 31.3, 31.0, 32.0,
                  31.8, 31.0, 30.5, 31.4, 31.5, 30.4, 30.2, 31.2, 31.0, 30.0, 29.8, 30.8, 30.6, 29.7, 29.5, 30.5,
                  31.0, 30.0, 29.5, 30.4, 30.2, 29.0, 28.8, 29.8, 30.5, 29.4, 29.0, 29.9, 29.8, 28.7, 28.5, 29.3,
                  28.0, 28.8, 29.2, 28.0, 27.5, 28.3, 28.5, 27.4, 26.8, 27.5, 27.8, 26.4, 25.5, 26.6,
                  26.5, 25.8, 27.2, 26.2, 25.8, 26.6, 26.0, 25.4, 25.5, 26.3, 26.2, 25.2, 25.6, 26.2, 25.8]
homestead_tmean = [22.0, 20.5, 21.2, 19.8, 20.8, 19.5, 20.6, 21.0, 20.0, 21.2, 19.8, 20.5, 19.4, 21.0, 20.2,
                   21.3, 20.6, 22.0, 21.4, 22.5, 21.8, 22.8, 22.2, 23.5, 22.8, 23.8, 23.2, 24.0, 23.6, 24.3,
                   24.8, 24.2, 25.0, 24.6, 25.3, 25.0, 25.6, 25.4, 26.0, 26.5, 26.2, 26.8, 26.6, 27.0, 27.3, 27.1,
                   27.5, 27.8, 27.4, 28.0, 27.8, 28.2, 28.0, 28.3, 28.1, 28.4, 28.2, 28.5, 28.3, 28.2, 28.4,
                   28.0, 28.3, 27.8, 28.1, 27.9, 27.6, 27.9, 27.4, 27.0, 26.5, 26.8, 25.8, 25.0, 24.5, 24.0, 23.5,
                   23.8, 22.6, 23.4, 22.0, 22.8, 21.6, 22.5, 21.8, 22.2, 21.5, 22.0, 20.5, 21.2, 20.0, 21.8]
homestead_tmin = [13.2, 10.0, 8.5, 11.5, 10.5, 8.0, 6.5, 9.5, 11.0, 7.0, 4.7, 7.5, 9.0, 6.0, 7.0, 10.5,
                  12.5, 8.0, 5.2, 9.0, 11.5, 10.0, 8.5, 11.0, 12.0, 10.5, 9.5, 12.5, 11.0, 9.0,
                  8.0, 10.5, 12.0, 10.0, 9.0, 11.0, 11.5, 9.5, 10.0, 12.0, 12.5, 10.5, 11.0, 13.5, 13.0, 12.0,
                  12.0, 13.5, 14.5, 12.5, 13.0, 15.0, 16.5, 14.5, 14.0, 16.0, 17.0, 15.5, 15.0, 16.5,
                  18.0, 17.0, 16.0, 18.5, 19.5, 17.0, 17.5, 20.0, 21.0, 19.0, 18.5, 21.5, 22.0, 20.0, 20.5, 22.5,
                  22.5, 23.5, 24.0, 22.8, 23.0, 24.2, 24.8, 23.6, 23.5, 24.6, 24.5, 23.4, 24.0, 25.2, 25.0, 24.0,
                  23.8, 24.6, 24.8, 23.9, 24.2, 25.0, 25.2, 24.3, 24.0, 24.8, 24.9, 24.0, 24.4, 25.3, 25.5, 24.6,
                  25.8, 25.0, 24.6, 25.6, 25.9, 24.9, 24.8, 25.7, 25.5, 24.6, 24.5, 25.4, 25.2, 24.4,
                  24.8, 25.4, 25.3, 24.4, 24.5, 25.2, 25.0, 24.1, 24.2, 25.0, 25.2, 24.3, 24.5, 25.0, 24.7, 24.2,
                  24.0, 24.6, 24.8, 23.2, 23.5, 24.0, 22.5, 20.5, 21.0, 22.0, 20.0, 17.5, 18.0, 20.5, 19.5, 16.5,
                  16.0, 18.0, 14.5, 13.0, 17.5, 15.5, 15.0, 11.0, 16.5, 14.0, 12.5, 15.5, 14.0, 10.5,
                  11.5, 9.5, 13.0, 11.0, 10.0, 12.0, 12.5, 9.0, 8.5, 10.5, 11.0, 7.5, 9.0, 7.0, 4.6]
homestead_red = [
    [26.7, 26.8, 26.9, 27.0, 27.2, 27.5, 28.0, 28.8, 29.8, 30.2, 30.7, 31.5, 32.4, 32.6, 32.5, 32.4, 32.1, 31.4, 30.5, 30.0, 29.3, 28.5, 27.7, 27.2, 26.8],
    [25.8, 25.8, 25.9, 26.0, 26.2, 26.5, 27.0, 27.6, 28.3, 28.8, 29.4, 30.1, 30.9, 31.2, 31.3, 31.3, 31.0, 30.4, 29.5, 28.8, 28.0, 27.2, 26.6, 26.1, 25.7],
    [24.3, 24.3, 24.4, 24.5, 24.7, 25.1, 25.7, 26.3, 27.0, 27.6, 28.3, 28.9, 29.5, 29.8, 29.9, 29.9, 29.6, 29.0, 28.0, 27.2, 26.5, 25.8, 25.1, 24.6, 24.3],
]
homestead_green = [
    [23.1, 22.9, 22.8, 22.9, 23.2, 23.6, 24.2, 24.8, 25.5, 26.2, 27.0, 27.7, 28.4, 28.9, 29.2, 29.2, 28.9, 28.3, 27.4, 26.5, 25.6, 24.8, 24.1, 23.6, 23.2],
    [21.3, 21.0, 20.9, 21.0, 21.4, 22.0, 22.7, 23.5, 24.3, 25.1, 26.0, 26.7, 27.4, 28.0, 28.3, 28.3, 28.0, 27.3, 26.2, 25.0, 24.0, 23.1, 22.3, 21.7, 21.2],
    [18.1, 17.9, 17.9, 18.1, 18.5, 19.1, 19.8, 20.6, 21.5, 22.5, 23.7, 24.8, 25.8, 26.8, 27.5, 27.7, 27.5, 26.9, 25.7, 24.3, 22.7, 21.2, 19.9, 19.0, 18.3],
]
homestead_blue = [
    [14.6, 15.0, 15.5, 16.2, 17.0, 18.2, 19.6, 21.0, 22.4, 23.7, 24.9, 25.7, 26.3, 26.8, 27.2, 27.1, 26.7, 26.4, 26.0, 23.5, 20.2, 17.8, 16.3, 15.3, 14.7],
    [9.9, 9.8, 10.0, 10.7, 11.8, 13.4, 15.3, 17.2, 19.2, 21.2, 23.2, 24.3, 24.8, 25.3, 25.7, 25.6, 25.1, 24.8, 24.3, 21.5, 17.5, 14.2, 12.2, 10.9, 10.0],
    [7.2, 7.0, 7.0, 7.5, 8.5, 10.0, 12.0, 14.2, 16.5, 18.8, 21.0, 22.3, 22.7, 23.4, 24.3, 24.0, 23.3, 23.1, 22.8, 19.0, 13.5, 11.2, 9.6, 8.4, 7.6],
]

# title, y limits, y ticks, daily series, smooth curves
PANELS = [
    ("Bethel (AK)", (-45.98, 28.16), [-40, -30, -20, -10, 0, 10, 20],
     bethel_tmax, bethel_tmean, bethel_tmin, bethel_red, bethel_green, bethel_blue),
    ("Colorado Springs (CO)", (-28.74, 31.2), [-20, -10, 0, 10, 20, 30],
     colorado_tmax, colorado_tmean, colorado_tmin, colorado_red, colorado_green, colorado_blue),
    ("Minneapolis (MN)", (-33.61, 34.9), [-30, -20, -10, 0, 10, 20, 30],
     minneapolis_tmax, minneapolis_tmean, minneapolis_tmin, minneapolis_red, minneapolis_green, minneapolis_blue),
    ("Boston (MA)", (-20.85, 34.1), [-20, -10, 0, 10, 20, 30],
     boston_tmax, boston_tmean, boston_tmin, boston_red, boston_green, boston_blue),
    ("Hilo (HI)", (17.24, 28.67), [18, 20, 22, 24, 26, 28],
     hilo_tmax, hilo_tmean, hilo_tmin, hilo_red, hilo_green, hilo_blue),
    ("San Diego (CA)", (4.21, 34.35), [5, 10, 15, 20, 25, 30],
     sandiego_tmax, sandiego_tmean, sandiego_tmin, sandiego_red, sandiego_green, sandiego_blue),
    ("Blythe (CA)", (-0.48, 43.6), [0, 10, 20, 30, 40],
     blythe_tmax, blythe_tmean, blythe_tmin, blythe_red, blythe_green, blythe_blue),
    ("Homestead (FL)", (3.47, 34.36), [5, 10, 15, 20, 25, 30],
     homestead_tmax, homestead_tmean, homestead_tmin, homestead_red, homestead_green, homestead_blue),
]

sns.set_theme(style="white")
plt.rcParams["font.family"] = ["Liberation Sans", "DejaVu Sans"]
plt.rcParams["axes.unicode_minus"] = False

W, H = 1186, 589
fig = plt.figure(figsize=(W / 100, H / 100), dpi=100)

FS = 7.3

for i, (title, ylim, yticks, tmax, tmean, tmin, reds, greens, blues) in enumerate(PANELS):
    row, col = divmod(i, 4)
    left = 42 + 304.5 * col
    top = 29 + 296.7 * row
    ax = fig.add_axes([left / W, 1 - (top + 215) / H, 244 / W, 215 / H])

    for curves, c in ((reds, "#ff0000"), (greens, "#00cc00"), (blues, "#0000ff")):
        for curve in curves:
            sns.lineplot(x=SMOOTH_DAYS, y=curve, ax=ax, color=c, linewidth=1.05,
                         errorbar=None, sort=False, legend=False)
    for days, series in ((DAYS_2, tmax), (DAYS_4, tmean), (DAYS_2, tmin)):
        sns.lineplot(x=days, y=series, ax=ax, color="black", linewidth=0.95,
                     errorbar=None, sort=False, legend=False)

    ax.set_xlim(1 - 0.04 * 364, 365 + 0.04 * 364)
    ax.set_ylim(*ylim)
    ax.set_xticks(MONTH_DAYS)
    ax.set_xticklabels(MONTHS)
    ax.set_yticks(yticks)
    ax.set_yticklabels([str(t) for t in yticks])
    ax.set_xlabel("")
    ax.set_ylabel("")

    sns.despine(ax=ax)
    for side in ("left", "bottom"):
        ax.spines[side].set_color("black")
        ax.spines[side].set_linewidth(0.8)
    ax.spines["bottom"].set_bounds(MONTH_DAYS[0], MONTH_DAYS[-1])
    ax.spines["left"].set_bounds(yticks[0], yticks[-1])

    ax.tick_params(axis="both", direction="out", length=3, width=0.8, color="black",
                   labelsize=FS, labelcolor="black", left=True, bottom=True)
    ax.tick_params(axis="x", labelrotation=90, pad=2.2)
    ax.tick_params(axis="y", labelrotation=90, pad=2.4)
    for lab in ax.get_yticklabels():
        lab.set_va("center")

    ax.set_title(title, fontsize=11.7, fontweight="bold", color="black", pad=10.3)
    ax.text(0.5, -36.5 / 215, "Month", transform=ax.transAxes, ha="center", va="center",
            fontsize=FS, color="black")
    ax.text(-30 / 244, 0.5, "Temperature (°C)", transform=ax.transAxes, rotation=90,
            ha="center", va="center", fontsize=FS, color="black")

fig.savefig("out.png", dpi=100)
